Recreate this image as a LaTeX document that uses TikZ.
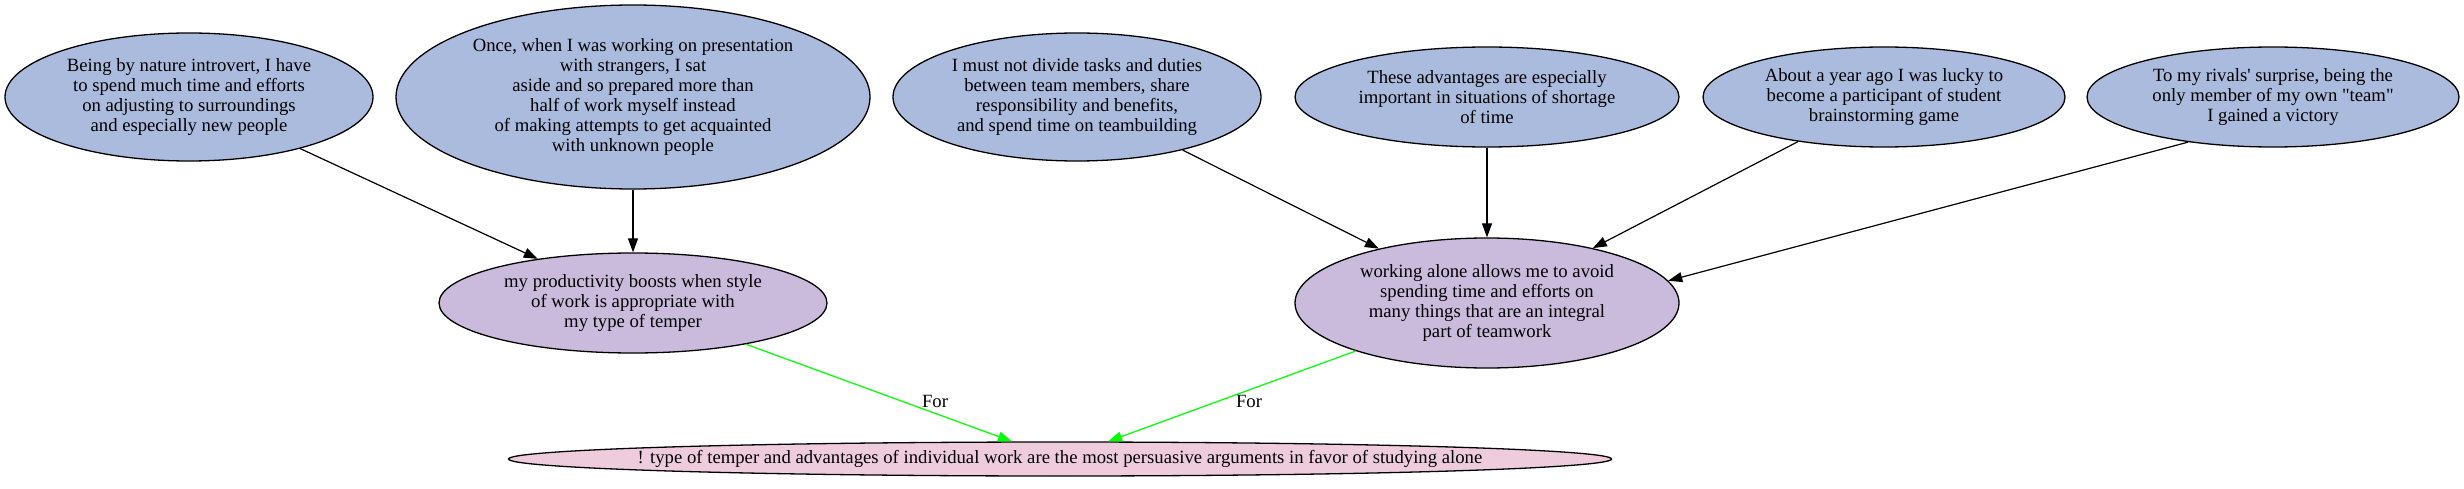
\documentclass[tikz,border=0pt]{standalone}
\usepackage{fontspec}
\setmainfont{Liberation Serif}
\usetikzlibrary{shapes.geometric,arrows.meta}
\definecolor{premise}{RGB}{170,187,221}
\definecolor{claim}{RGB}{202,186,220}
\definecolor{topic}{RGB}{238,204,222}
\definecolor{forgreen}{RGB}{0,255,0}
\tikzset{
  every node/.style={font=\fontsize{18.7}{20}\selectfont},
  bubble/.style={ellipse, draw=black, line width=1.3pt, inner sep=0pt, align=center},
  prem/.style={bubble, fill=premise},
  clm/.style={bubble, fill=claim},
  top/.style={bubble, fill=topic},
  sup/.style={draw=black, line width=1.2pt, -{Triangle[length=14pt,width=10pt]}},
  forarrow/.style={draw=forgreen, line width=1.2pt, -{Triangle[length=14pt,width=10pt]}},
  forlabel/.style={inner sep=1pt}
}
\begin{document}
\begin{tikzpicture}[x=1pt,y=-1pt]
\useasboundingbox (0,0) rectangle (2464,489);
\node[prem, minimum width=368pt, minimum height=128pt] (a) at (189,97)
  {Being by nature introvert, I have\\to spend much time and efforts\\on adjusting to surroundings\\and especially new people};
\node[prem, minimum width=474pt, minimum height=184pt] (b) at (633,97)
  {Once, when I was working on presentation\\with strangers, I sat\\aside and so prepared more than\\half of work myself instead\\of making attempts to get acquainted\\with unknown people};
\node[prem, minimum width=368pt, minimum height=128pt] (c) at (1077,97)
  {I must not divide tasks and duties\\between team members, share\\responsibility and benefits,\\and spend time on teambuilding};
\node[prem, minimum width=384pt, minimum height=100pt] (d) at (1487,97)
  {These advantages are especially\\important in situations of shortage\\of time};
\node[prem, minimum width=362pt, minimum height=100pt] (e) at (1884,97)
  {About a year ago I was lucky to\\become a participant of student\\brainstorming game};
\node[prem, minimum width=372pt, minimum height=100pt] (f) at (2273,97)
  {To my rivals\textquotesingle{} surprise, being the\\only member of my own \textquotedbl{}team\textquotedbl{}\\I gained a victory};
\node[clm, minimum width=388pt, minimum height=100pt] (g) at (633,303)
  {my productivity boosts when style\\of work is appropriate with\\my type of temper};
\node[clm, minimum width=384pt, minimum height=130pt] (h) at (1487,303)
  {working alone allows me to avoid\\spending time and efforts on\\many things that are an integral\\part of teamwork};
\node[top, inner xsep=-60pt, minimum width=1103pt, minimum height=34pt] (i) at (1060,459)
  {! type of temper and advantages of individual work are the most persuasive arguments in favor of studying alone};
\draw[sup] (a) -- (g);
\draw[sup] (b) -- (g);
\draw[sup] (c) -- (h);
\draw[sup] (d) -- (h);
\draw[sup] (e) -- (h);
\draw[sup] (f.208) -- (h.7);
\draw[forarrow] (g) -- (i);
\draw[forarrow] (h) -- (i);
\node[forlabel] (l1) at (935,401) {For};
\node[forlabel] (l2) at (1249,401) {For};
\end{tikzpicture}
\end{document}
